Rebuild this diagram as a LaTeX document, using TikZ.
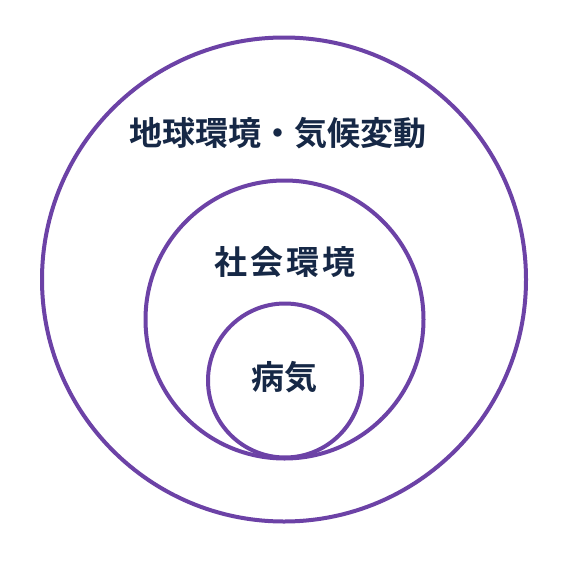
\documentclass[tikz,border=0pt]{standalone}
\usepackage{fontspec}
\newfontfamily\jpfont{Noto Sans CJK JP}[BoldFont={* Bold}]
\definecolor{ringpurple}{RGB}{108,66,166}
\definecolor{textnavy}{RGB}{22,40,70}
\begin{document}
\begin{tikzpicture}[x=1pt,y=-1pt,
  ring/.style={draw=ringpurple,line width=4pt},
  lbl/.style={text=textnavy,font=\jpfont\bfseries\fontsize{33}{36}\selectfont,inner sep=0pt}]
\useasboundingbox (0,0) rectangle (570,570);
\fill[white] (0,0) rectangle (570,570);
\node[ring,circle,minimum size=484pt,inner sep=0pt] (outer) at (284,279.5) {};
\node[ring,circle,minimum size=278pt,inner sep=0pt] (middle) at (284.5,319.5) {};
\node[ring,circle,minimum size=154pt,inner sep=0pt] (inner) at (285,380.5) {};
\node[lbl] (t1) at (277.5,133) {地球環境・気候変動};
\node[lbl] (t2) at (285,262) {社\kern3pt 会\kern3pt 環\kern3pt 境};
\node[lbl] (t3) at (284,377) {病気};
\end{tikzpicture}
\end{document}
